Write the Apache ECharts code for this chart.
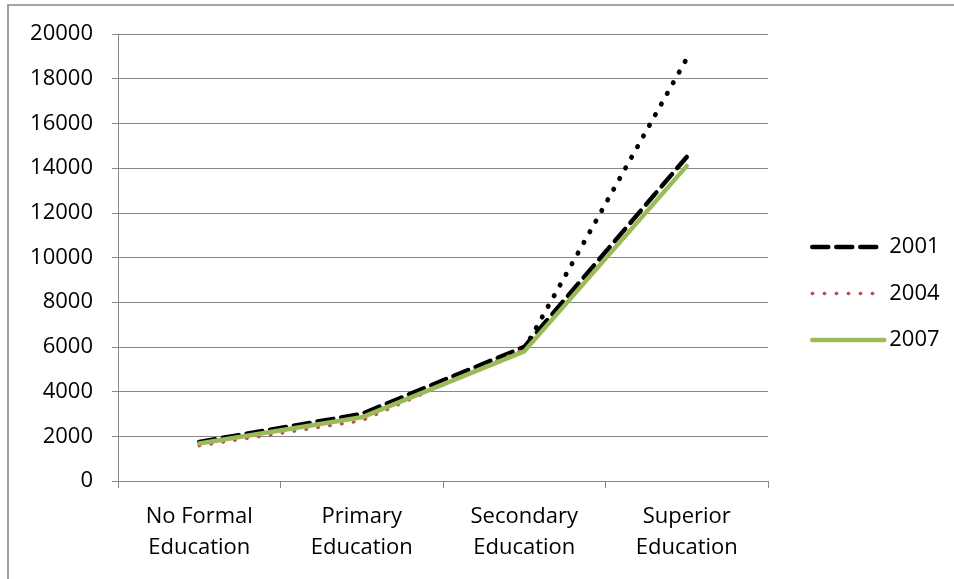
<!DOCTYPE html>
<html>
<head>
<meta charset="utf-8">
<script src="https://cdn.jsdelivr.net/npm/echarts@6/dist/echarts.min.js"></script>
<style>
html,body{margin:0;padding:0;background:#fff;}
#chart{width:954px;height:579px;}
</style>
</head>
<body>
<div id="chart"></div>
<script>
const categories = ['No Formal\nEducation', 'Primary\nEducation', 'Secondary\nEducation', 'Superior\nEducation'];
const seriesNames = ['2001', '2004', '2007'];
const values2001 = [1750, 3000, 6000, 14500];
const values2004 = [1580, 2700, 5900, 18900];
const values2007 = [1680, 2850, 5800, 14100];
const yMin = 0, yMax = 20000, yStep = 2000;

// 2004 drawn red for the first segments, black dotted for the last segment (as in the reference)
const splitAt = 2;
const v2004a = values2004.map((v, i) => i <= splitAt ? v : '-');
const v2004b = values2004.map((v, i) => i >= splitAt ? v : '-');

const dash2001 = [16, 8];
const dot2004 = [0.5, 11.5];
const FONT = 'Open Sans';
const hiddenIcon = { opacity: 0, borderWidth: 0 };

const chart = echarts.init(document.getElementById('chart'));
chart.setOption({
  animation: false,
  backgroundColor: '#fff',
  textStyle: { fontFamily: FONT },
  graphic: [{
    type: 'rect',
    shape: { x: 8, y: 5, width: 1200, height: 1200 },
    style: { fill: 'none', stroke: '#888', lineWidth: 1.6 },
    silent: true
  }],
  grid: { left: 118, right: 186, top: 34, bottom: 98 },
  legend: {
    orient: 'vertical',
    left: 805,
    top: 231,
    itemWidth: 72,
    itemHeight: 20,
    itemGap: 24.5,
    data: [
      { name: seriesNames[0], itemStyle: hiddenIcon, lineStyle: { color: '#000', width: 4.5, type: dash2001, cap: 'round' } },
      { name: seriesNames[1], itemStyle: hiddenIcon, lineStyle: { color: '#c0504d', width: 3.5, type: dot2004, cap: 'round' } },
      { name: seriesNames[2], itemStyle: hiddenIcon, lineStyle: { color: '#9bbb59', width: 4.5, cap: 'round' } }
    ],
    textStyle: { fontFamily: FONT, fontSize: 22, color: '#000' }
  },
  xAxis: {
    type: 'category',
    data: categories,
    boundaryGap: true,
    axisLine: { lineStyle: { color: '#888', width: 1 } },
    axisTick: { show: true, length: 7, lineStyle: { color: '#888' } },
    axisLabel: { color: '#000', fontFamily: FONT, fontSize: 22, lineHeight: 31, margin: 20, interval: 0 }
  },
  yAxis: {
    type: 'value',
    min: yMin, max: yMax, interval: yStep,
    axisLine: { show: true, lineStyle: { color: '#888', width: 1 } },
    axisTick: { show: true, length: 6, lineStyle: { color: '#888' } },
    splitLine: { show: true, lineStyle: { color: '#888', width: 1 } },
    axisLabel: { color: '#000', fontFamily: FONT, fontSize: 22, margin: 25, formatter: v => String(v) }
  },
  series: [
    {
      name: seriesNames[0], type: 'line', data: values2001, symbol: 'none', z: 2,
      color: '#000',
      lineStyle: { color: '#000', width: 4.5, type: dash2001, cap: 'round' }
    },
    {
      name: seriesNames[1], type: 'line', data: v2004a, symbol: 'none', z: 3,
      color: '#c0504d',
      lineStyle: { color: '#c0504d', width: 3.5, type: dot2004, cap: 'round' }
    },
    {
      name: '2004 late', type: 'line', data: v2004b, symbol: 'none', z: 3,
      color: '#000',
      lineStyle: { color: '#000', width: 4.8, type: [0.5, 11.7], cap: 'round' }
    },
    {
      name: seriesNames[2], type: 'line', data: values2007, symbol: 'none', z: 4,
      color: '#9bbb59',
      lineStyle: { color: '#9bbb59', width: 4.5, cap: 'round' }
    }
  ]
});
</script>
</body>
</html>
